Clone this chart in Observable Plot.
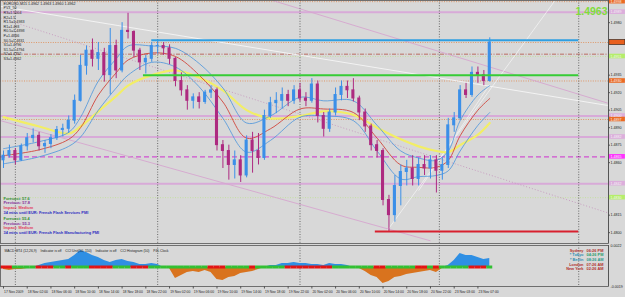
<!DOCTYPE html>
<html><head><meta charset="utf-8">
<script src="https://cdn.jsdelivr.net/npm/d3@7"></script>
<script src="https://cdn.jsdelivr.net/npm/@observablehq/plot@0.6"></script>
<style>
html,body{margin:0;padding:0;background:#d8d8d8;}
#chart{width:625px;height:297px;overflow:hidden;}
#chart svg{display:block;}
</style></head><body><div id="chart"></div>
<script>
// ---- hourly candles, EURUSD (bar index 0 = 17 Nov 2009 22:00) ----
const barOpen = [1.4862,1.4866,1.4870,1.4862,1.4874,1.4881,1.4883,1.4874,1.4876,1.4881,
1.4888,1.4889,1.4896,1.4913,1.4943,1.4956,1.4949,1.4954,1.4935,1.4960,
1.4939,1.4973,1.4972,1.4956,1.4946,1.4949,1.4960,1.4960,1.4958,1.4949,
1.4930,1.4922,1.4913,1.4916,1.4912,1.4920,1.4922,1.4875,1.4870,1.4858,
1.4862,1.4849,1.4879,1.4870,1.4864,1.4900,1.4911,1.4913,1.4918,1.4913,
1.4922,1.4915,1.4913,1.4927,1.4900,1.4889,1.4903,1.4918,1.4925,1.4922,
1.4915,1.4903,1.4891,1.4875,1.4870,1.4828,1.4815,1.4840,1.4852,1.4855,
1.4846,1.4858,1.4855,1.4862,1.4853,1.4858,1.4892,1.4898,1.4922,1.4918,
1.4937,1.4935,1.4930];
const barHigh = [1.4870,1.4875,1.4872,1.4876,1.4885,1.4889,1.4886,1.4879,1.4884,1.4891,
1.4893,1.4900,1.4918,1.4952,1.4960,1.4966,1.4963,1.4958,1.4975,1.4965,
1.4980,1.4988,1.4973,1.4958,1.4952,1.4963,1.4965,1.4963,1.4961,1.4950,
1.4937,1.4926,1.4919,1.4920,1.4922,1.4926,1.4924,1.4879,1.4875,1.4870,
1.4866,1.4883,1.4886,1.4885,1.4905,1.4916,1.4920,1.4924,1.4922,1.4926,
1.4928,1.4920,1.4932,1.4930,1.4903,1.4906,1.4924,1.4930,1.4930,1.4932,
1.4917,1.4906,1.4893,1.4879,1.4872,1.4832,1.4849,1.4858,1.4862,1.4866,
1.4864,1.4866,1.4866,1.4866,1.4864,1.4898,1.4903,1.4926,1.4928,1.4942,
1.4942,1.4939,1.4967];
const barLow = [1.4855,1.4864,1.4858,1.4861,1.4870,1.4877,1.4870,1.4868,1.4872,1.4879,
1.4882,1.4885,1.4893,1.4912,1.4935,1.4942,1.4939,1.4929,1.4918,1.4932,
1.4937,1.4966,1.4950,1.4939,1.4936,1.4946,1.4953,1.4952,1.4944,1.4925,
1.4917,1.4905,1.4906,1.4906,1.4910,1.4915,1.4870,1.4855,1.4845,1.4846,
1.4843,1.4847,1.4851,1.4858,1.4862,1.4898,1.4902,1.4906,1.4908,1.4910,
1.4912,1.4908,1.4911,1.4894,1.4882,1.4886,1.4900,1.4913,1.4915,1.4912,
1.4896,1.4886,1.4870,1.4864,1.4823,1.4801,1.4809,1.4823,1.4840,1.4840,
1.4840,1.4849,1.4846,1.4834,1.4845,1.4855,1.4886,1.4896,1.4915,1.4916,
1.4928,1.4926,1.4929];
const barClose = [1.4866,1.4870,1.4862,1.4874,1.4881,1.4883,1.4874,1.4876,1.4881,1.4888,
1.4889,1.4896,1.4913,1.4943,1.4956,1.4949,1.4954,1.4935,1.4960,1.4939,
1.4973,1.4972,1.4956,1.4946,1.4949,1.4960,1.4960,1.4958,1.4949,1.4930,
1.4922,1.4913,1.4916,1.4912,1.4920,1.4922,1.4875,1.4870,1.4858,1.4862,
1.4849,1.4879,1.4870,1.4864,1.4900,1.4911,1.4913,1.4918,1.4913,1.4922,
1.4915,1.4913,1.4927,1.4900,1.4889,1.4903,1.4918,1.4925,1.4922,1.4915,
1.4903,1.4891,1.4875,1.4870,1.4828,1.4815,1.4840,1.4852,1.4855,1.4846,
1.4858,1.4855,1.4862,1.4853,1.4858,1.4892,1.4898,1.4922,1.4918,1.4937,
1.4935,1.4930,1.4963];

// ---- moving averages read at sample bars ----
const maIndex   = [0,6,11,13,16,19,21,25,29,33,37,41,45,50,54,59,63,67,70,73,75,77,80,82];
const maSlow    = [1.4899,1.4891,1.4885,1.4891,1.4904,1.4917,1.4926,1.4935,1.4939,1.4933,1.4922,1.4905,1.4898,1.4900,1.4904,1.4901,1.4890,1.4880,1.4874,1.4870,1.4869,1.4875,1.4884,1.4894];
const maFast    = [1.4866,1.4871,1.4880,1.4890,1.4918,1.4937,1.4948,1.4954,1.4951,1.4935,1.4912,1.4881,1.4889,1.4906,1.4906,1.4903,1.4881,1.4858,1.4856,1.4856,1.4862,1.4883,1.4905,1.4915];
const bandUpper = [1.4872,1.4878,1.4886,1.4899,1.4930,1.4949,1.4960,1.4960,1.4958,1.4945,1.4924,1.4894,1.4900,1.4916,1.4913,1.4913,1.4892,1.4870,1.4864,1.4862,1.4870,1.4896,1.4918,1.4926];
const bandLower = [1.4859,1.4865,1.4874,1.4882,1.4905,1.4924,1.4935,1.4946,1.4942,1.4925,1.4898,1.4869,1.4879,1.4899,1.4900,1.4896,1.4870,1.4846,1.4848,1.4849,1.4853,1.4870,1.4892,1.4903];

// ---- lower pane: histogram and signal state per bar ----
const histValues = [-0.0002,-0.0003,-0.0002,-0.0002,-0.0001,0.0000,0.0002,0.0004,0.0005,0.0006,
0.0007,0.0008,0.0012,0.0017,0.0015,0.0012,0.0010,0.0007,0.0005,0.0007,
0.0008,0.0006,0.0005,0.0003,0.0003,0.0004,0.0003,0.0000,-0.0001,-0.0011,
-0.0008,-0.0005,-0.0004,-0.0005,-0.0003,-0.0005,-0.0012,-0.0013,-0.0010,-0.0009,
-0.0006,-0.0005,-0.0004,-0.0002,0.0000,0.0002,0.0002,0.0004,0.0004,0.0005,
0.0004,0.0004,0.0003,0.0003,0.0002,0.0004,0.0003,0.0003,0.0002,0.0000,
-0.0001,-0.0004,-0.0008,-0.0010,-0.0016,-0.0014,-0.0010,-0.0009,-0.0007,-0.0006,
-0.0005,-0.0004,-0.0003,-0.0005,-0.0001,0.0002,0.0007,0.0014,0.0012,0.0012,
0.0010,0.0008,0.0009];
const signalState = [1,1,0,0,0,0,1,1,1,0,
0,1,0,0,0,1,1,1,1,0,
0,0,1,1,1,0,0,0,0,0,
0,0,0,0,0,1,1,1,0,0,
0,0,1,0,0,0,0,0,1,1,
1,1,1,1,1,1,0,0,0,0,
0,0,0,1,1,0,0,0,0,0,
1,1,0,1,0,0,0,0,0,1,
1,1,0];

// ---- time axis ----
const tickIndex = [0,4,8,12,16,20,24,28,32,36,40,44,48,52,56,60,64,68,72,76,80];
const tickLabels = ["17 Nov 2009","18 Nov 02:00","18 Nov 06:00","18 Nov 10:00","18 Nov 14:00","18 Nov 18:00","18 Nov 22:00",
"19 Nov 02:00","19 Nov 06:00","19 Nov 10:00","19 Nov 14:00","19 Nov 18:00","19 Nov 22:00",
"20 Nov 02:00","20 Nov 06:00","20 Nov 10:00","20 Nov 14:00","20 Nov 18:00","20 Nov 22:00","23 Nov 03:00","23 Nov 07:00"];
const daySeparators = [2, 26, 50, 73.5, 97];

// ---- horizontal levels ----
const levelPrice = [1.4998,1.4989,1.4963,1.4953,1.4951,1.4930,1.4900,1.4897,1.4882,1.4865,1.4842,1.4830];
const levelKind  = ["mid","pivot","mid","dashdot","faint","mid","pivot","mid","pivot","dash","pivot","faint"];
const zonePrice = [1.4965, 1.4935, 1.4801];
const zoneStart = [25, 23.6, 62.7];
const zoneEnd   = [97, 97, 97];
const zoneKind  = ["resistance","breakout","low"];

// ---- trend lines (bar index, price) ----
const trendStartIdx   = [-0.5, 45.4, -0.5, -0.5, 64.6, 70];
const trendStartPrice = [1.4994, 1.4999, 1.4984, 1.4896, 1.4801, 1.4836];
const trendEndIdx     = [101.9, 101.9, 101.9, 72, 93, 82];
const trendEndPrice   = [1.4909, 1.4911, 1.4817, 1.4793, 1.4999, 1.4927];
const trendKind       = ["channel","fan","projection","support","rise","rise"];

// ---- texts ----
const headerLines = ["EURUSD,M15 1.4962 1.4963 1.4960 1.4962","PV3_50","R3=1.5004","R2=1.5","R1.5=1.4983","R1=1.493",
"R0.5=1.4898","P=1.4866","S0.5=1.4831","S1=1.4796","S1.5=1.4794","S2=1.4752","S3=1.4662"];
const eventLines = ["Forecast: 57.6","Previous: 57.8","Impact: Medium","34 mins until EUR: French Flash Services PMI",
"Forecast: 55.4","Previous: 55.3","Impact: Medium","34 mins until EUR: French Flash Manufacturing PMI"];
const eventKinds = ["forecast","previous","impact","countdown","forecast","previous","impact","countdown"];
const paneLabel = "MACD MT4 (12,26,9)    Indicator is off    CCI Unit(50, 150)    Indicator is off    CCI Histogram (50)    P4L Clock";
const clockCities = ["Sydney","* Tokyo","* Berlin","London","New York"];
const clockTimes  = ["06:26 PM","04:26 PM","08:26 AM","07:26 AM","02:26 AM"];
const clockKinds  = ["far","asia","europe","far","far"];

// ================= drawing =================
const FONT = "'Liberation Sans', Arial, sans-serif";
const BG = "#d8d8d8";
const X_DOMAIN = [-0.506, 102.02];
const Y_DOMAIN = [1.479071, 1.4999];
const AX0 = X_DOMAIN[1];
const pxP = 0.0000857143; // price per pixel

const bars = barOpen.map((o, i) => ({i, o, h: barHigh[i], l: barLow[i], c: barClose[i]}));
const UP = "#3b8fe8", DOWN = "#ad2a80";
const candleColor = d => d.c >= d.o ? UP : DOWN;
const ma = maIndex.map((i, k) => ({i, slow: maSlow[k], fast: maFast[k], up: bandUpper[k], lo: bandLower[k]}));
const levels = levelPrice.map((p, k) => ({price: p, kind: levelKind[k]}));
const zones = zonePrice.map((p, k) => ({price: p, from: zoneStart[k], to: zoneEnd[k], kind: zoneKind[k]}));
const trends = trendKind.map((k, j) => ({x1: trendStartIdx[j], y1: trendStartPrice[j], x2: trendEndIdx[j], y2: trendEndPrice[j], kind: k}));
const lastPrice = barClose[barClose.length - 1];

const levelStyle = {
  pivot:   {stroke: "#d8aad8", strokeWidth: 2},
  mid:     {stroke: "#e0905a", strokeWidth: 0.9, strokeDasharray: "1,1.4"},
  dashdot: {stroke: "#b86054", strokeWidth: 0.9, strokeDasharray: "4,1.5,1,1.5"},
  faint:   {stroke: "#bfe094", strokeWidth: 0.8, strokeDasharray: "1,1.5"},
  dash:    {stroke: "#d050d0", strokeWidth: 1.1, strokeDasharray: "5,3"}
};
const boxColor = {pivot: "#dcaedc", mid: "#ec6a24", dashdot: null, faint: "#b4ee6a", dash: "#ff33ff"};
const zoneStyle = {resistance: "#2f9fe2", breakout: "#36cc36", low: "#d8202e"};
const trendStyle = {
  channel:    {stroke: "#f3f3f3", strokeWidth: 1},
  fan:        {stroke: "#d6a6cf", strokeWidth: 0.9},
  projection: {stroke: "#c596bd", strokeWidth: 0.9, strokeDasharray: "1,2"},
  support:    {stroke: "#d6a6cf", strokeWidth: 0.9},
  rise:       {stroke: "#f6f6f6", strokeWidth: 0.7}
};
const eventColor = {forecast: "#2f8f2f", previous: "#85309a", impact: "#e2405c", countdown: "#2c2cc0"};
const clockNameColor = {far: "#b0302c", asia: "#2d8fb4", europe: "#2d8fb4"};
const clockTimeColor = {far: "#b0302c", asia: "#2a9a6a", europe: "#2a9a8a"};

const boxed = levels.filter(d => boxColor[d.kind]);
const boxPrices = boxed.map(d => d.price).concat([lastPrice]);
// axis tick labels that are not hidden under a coloured price box
const priceTicks = d3.range(0, 14).map(k => +(1.4800 + 0.0015 * k).toFixed(4))
  .filter(p => boxPrices.every(b => Math.abs(b - p) / pxP > 5));

const mainMarks = [];
for (const kind of Object.keys(levelStyle)) {
  mainMarks.push(Plot.ruleY(levels.filter(d => d.kind === kind), {y: "price", ...levelStyle[kind]}));
}
for (const kind of Object.keys(trendStyle)) {
  mainMarks.push(Plot.link(trends.filter(d => d.kind === kind), {x1: "x1", y1: "y1", x2: "x2", y2: "y2", ...trendStyle[kind], clip: true}));
}
mainMarks.push(Plot.ruleX(daySeparators, {stroke: "#3a3a3a", strokeWidth: 0.7, strokeDasharray: "1,1.6"}));
mainMarks.push(
  Plot.line(ma, {x: "i", y: "slow", stroke: "#f2ee66", strokeWidth: 2.2, curve: "catmull-rom"}),
  Plot.line(ma, {x: "i", y: "up", stroke: "#4a94dc", strokeWidth: 0.8, curve: "catmull-rom"}),
  Plot.line(ma, {x: "i", y: "lo", stroke: "#4a94dc", strokeWidth: 0.8, curve: "catmull-rom"}),
  Plot.line(ma, {x: "i", y: "fast", stroke: "#d0463c", strokeWidth: 0.9, curve: "catmull-rom"})
);
mainMarks.push(
  Plot.ruleX(bars, {x: "i", y1: "l", y2: "h", stroke: candleColor, strokeWidth: 1}),
  Plot.rect(bars, {x1: d => d.i - 0.26, x2: d => d.i + 0.26, y1: d => Math.min(d.o, d.c) - 0.00004, y2: d => Math.max(d.o, d.c) + 0.00004, fill: candleColor})
);
for (const kind of Object.keys(zoneStyle)) {
  mainMarks.push(Plot.ruleY(zones.filter(d => d.kind === kind), {y: "price", x1: "from", x2: "to", stroke: zoneStyle[kind], strokeWidth: 2}));
}
mainMarks.push(Plot.text([headerLines.join("\n")], {frameAnchor: "top-left", dx: 3, dy: 1, lineAnchor: "top", lineHeight: 1.26, fontSize: 3.65, fill: "#1e1e1e"}));
eventLines.forEach((line, k) => {
  mainMarks.push(Plot.text([line], {frameAnchor: "top-left", dx: 3, dy: 198 + k * 4.6 + (k >= 4 ? 2 : 0), lineAnchor: "middle", fontSize: 3.9, fontWeight: "bold", fill: eventColor[eventKinds[k]]}));
});
mainMarks.push(Plot.text([lastPrice], {frameAnchor: "top-right", dx: -1, dy: 11, lineAnchor: "middle", text: d => d.toFixed(4), fontSize: 10.5, fontWeight: "bold", fill: "#80dc3c"}));
mainMarks.push(
  Plot.ruleX([AX0], {stroke: "#5a5a5a", strokeWidth: 1}),
  Plot.ruleY(priceTicks, {x1: AX0, x2: AX0 + 0.3, stroke: "#333"}),
  Plot.text(priceTicks, {x: AX0 + 0.35, y: d => d, text: d => d.toFixed(4), textAnchor: "start", fontSize: 3.6, fill: "#222"})
);
mainMarks.push(
  Plot.rect(boxed, {x1: AX0 + 0.15, x2: AX0 + 2.85, y1: d => d.price - 2.3 * pxP, y2: d => d.price + 2.3 * pxP, fill: d => boxColor[d.kind]}),
  Plot.text(boxed, {x: AX0 + 0.35, y: "price", text: d => d.price.toFixed(4), textAnchor: "start", fontSize: 3.6, fill: "#f4f4f4"}),
  Plot.rect([lastPrice], {x1: AX0 + 0.15, x2: AX0 + 2.85, y1: d => d - 2.5 * pxP, y2: d => d + 2.5 * pxP, fill: "#e8601e", stroke: "#222", strokeWidth: 0.6})
);
mainMarks.push(Plot.frame({stroke: "#555", strokeWidth: 0.8}));

const mainPlot = Plot.plot({
  width: 625, height: 244,
  marginLeft: 0, marginRight: 17, marginTop: 0, marginBottom: 1,
  x: {domain: X_DOMAIN, axis: null},
  y: {domain: Y_DOMAIN, axis: null},
  style: {background: BG, fontFamily: FONT, overflow: "visible"},
  marks: mainMarks
});

// ---------------- indicator pane ----------------
const hist = histValues.map((v, i) => ({i, v, pos: Math.max(0, v), neg: Math.min(0, v), s: signalState[i]}));
const IY = [-0.0019, 0.0022];
const clock = clockCities.map((c, k) => ({city: c, time: clockTimes[k], kind: clockKinds[k], k}));

const indMarks = [
  Plot.ruleX(daySeparators, {stroke: "#3a3a3a", strokeWidth: 0.7, strokeDasharray: "1,1.6"}),
  Plot.areaY(hist, {x: "i", y: "pos", fill: "#2f8fe4"}),
  Plot.areaY(hist, {x: "i", y: "neg", fill: "#d9731e"}),
  Plot.rect(hist, {x1: d => d.i - 0.5, x2: d => d.i + 0.5, y1: -0.00015, y2: 0.00015, fill: d => d.s ? "#e31414" : "#32c032"}),
  Plot.text([paneLabel], {frameAnchor: "top-left", dx: 4, dy: 5, lineAnchor: "middle", fontSize: 3.4, fill: "#1e1e1e"}),
  Plot.ruleX([AX0], {stroke: "#5a5a5a", strokeWidth: 1}),
  Plot.text([IY[1], IY[0]], {x: AX0 + 0.35, y: d => d, text: d => d.toFixed(4), textAnchor: "start", lineAnchor: "middle", fontSize: 3.6, fill: "#222"}),
  Plot.ruleX(tickIndex, {y1: IY[0], y2: IY[0] - 0.00025, stroke: "#333", strokeWidth: 0.8}),
  Plot.text(tickIndex, {x: d => d, text: (d, k) => tickLabels[k], frameAnchor: "bottom", dy: 5.2, dx: 0.6, textAnchor: "start", lineAnchor: "middle", fontSize: 3.4, fill: "#1e1e1e"}),
  Plot.frame({stroke: "#555", strokeWidth: 0.8})
];
clock.forEach(c => {
  indMarks.push(
    Plot.text([c], {frameAnchor: "top-right", dx: -25, dy: 5 + c.k * 4.6, text: "city", textAnchor: "end", lineAnchor: "middle", fontSize: 3.9, fontWeight: "bold", fill: clockNameColor[c.kind]}),
    Plot.text([c], {frameAnchor: "top-right", dx: -22, dy: 5 + c.k * 4.6, text: "time", textAnchor: "start", lineAnchor: "middle", fontSize: 3.9, fontWeight: "bold", fill: clockTimeColor[c.kind]})
  );
});

const indPlot = Plot.plot({
  width: 625, height: 53,
  marginLeft: 0, marginRight: 17, marginTop: 1, marginBottom: 11,
  x: {domain: X_DOMAIN, axis: null},
  y: {domain: IY, axis: null},
  style: {background: BG, fontFamily: FONT, overflow: "visible"},
  marks: indMarks
});

document.getElementById("chart").append(mainPlot, indPlot);
</script>
</body></html>
